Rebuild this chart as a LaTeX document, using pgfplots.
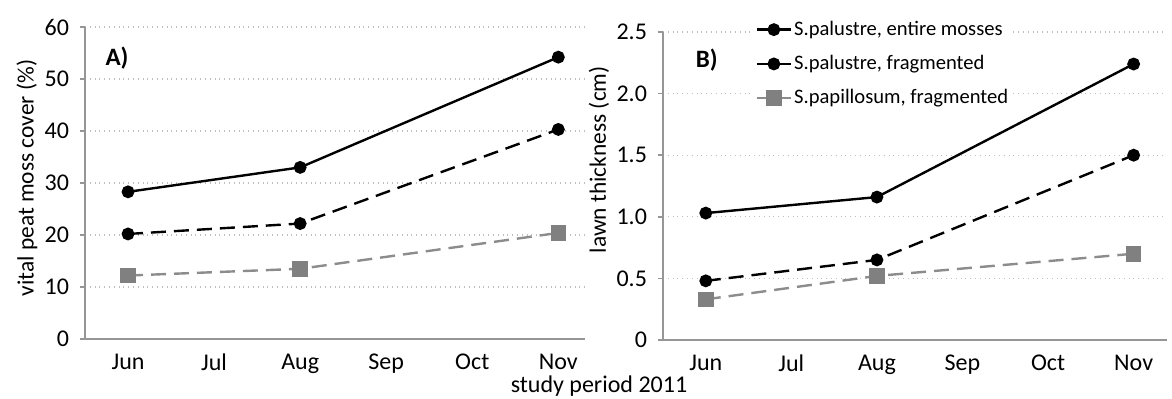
\documentclass[border=0pt]{standalone}
\usepackage{pgfplots}
\pgfplotsset{compat=1.18}
\usepackage{fontspec}
\setmainfont{Carlito}
\definecolor{axgray}{RGB}{150,150,150}
\definecolor{gridgray}{RGB}{190,190,190}
\definecolor{sqgray}{RGB}{128,128,128}
\definecolor{lngray}{RGB}{140,140,140}
\begin{document}
\begin{tikzpicture}
\path[use as bounding box] (-42.5pt,-30pt) rectangle (543.5pt,169.5pt);
\pgfplotsset{
  common/.style={
    scale only axis,
    axis x line*=bottom, axis y line*=left,
    axis line style={axgray, line width=0.8pt},
    xmin=0,
    xtick={0.5,1.5,2.5,3.5,4.5,5.5},
    xticklabels={Jun,Jul,Aug,Sep,Oct,Nov},
    minor xtick={1,2,3,4,5},
    xtick style={draw=none},
    minor x tick style={axgray, line width=0.8pt},
    ytick style={axgray, line width=0.8pt},
    tick align=outside,
    major tick length=2.5pt, minor tick length=3pt,
    ymajorgrids, grid style={gridgray, dotted, line width=0.6pt},
    ymin=0,
    tick label style={font=\fontsize{12}{14}\selectfont},
    yticklabel style={xshift=-2pt},
    xticklabel style={yshift=-1.5pt},
    /pgf/number format/assume math mode=true,
    label style={font=\fontsize{11.7}{14}\selectfont},
    clip=false,
  },
  s1/.style={black, line width=1.2pt, mark=*, mark size=2.6pt, mark options={solid}},
  s2/.style={black, line width=1.2pt, dash pattern=on 7.5pt off 4pt, mark=*, mark size=2.6pt, mark options={solid}},
  s3/.style={lngray, line width=1.2pt, dash pattern=on 7.5pt off 4pt, mark=square*, mark size=3.3pt, mark options={solid, sqgray, draw=sqgray, fill=sqgray}},
}
\begin{axis}[common, at={(0pt,0pt)}, width=250pt, height=156pt,
  xmax=5.81, ymax=60, ytick={0,10,20,30,40,50,60},
  ylabel={vital peat moss cover (\%)},
  ylabel style={at={(axis description cs:-0.116,0.516)}, anchor=center, rotate=0},
]
\addplot[s1] coordinates {(0.5,28.3) (2.5,33.0) (5.5,54.2)};
\addplot[s2] coordinates {(0.5,20.2) (2.5,22.2) (5.5,40.3)};
\addplot[s3] coordinates {(0.5,12.2) (2.5,13.5) (5.5,20.4)};
\node[font=\bfseries\fontsize{12.5}{14}\selectfont] at (axis description cs:0.064,0.90) {A)};
\end{axis}
\begin{axis}[common, at={(289pt,-0.5pt)}, width=252pt, height=154pt,
  xmax=5.89, ymax=2.5, ytick={0,0.5,1,1.5,2,2.5},
  yticklabels={0,0.5,1.0,1.5,2.0,2.5},
  ylabel={lawn thickness (cm)},
  ylabel style={at={(axis description cs:-0.127,0.585)}, anchor=center, rotate=0},
  legend style={at={(axis description cs:0.179,1.05)}, anchor=north west, draw=none, fill=white,
    inner sep=1pt, row sep=6.5pt, font=\fontsize{10.3}{12}\selectfont,
    nodes={inner sep=1pt}},
  legend cell align=left,
]
\addplot[s1] coordinates {(0.5,1.03) (2.5,1.16) (5.5,2.24)};
\addlegendentry{S.palustre, entire mosses}
\addplot[s2] coordinates {(0.5,0.48) (2.5,0.65) (5.5,1.50)};
\addlegendentry{S.palustre, fragmented}
\addplot[s3] coordinates {(0.5,0.33) (2.5,0.52) (5.5,0.70)};
\addlegendentry{S.papillosum, fragmented}
\node[font=\bfseries\fontsize{12.5}{14}\selectfont] at (axis description cs:0.087,0.91) {B)};
\end{axis}
\node[font=\fontsize{12}{14}\selectfont] at (257pt,-23.5pt) {study period 2011};
\end{tikzpicture}
\end{document}
